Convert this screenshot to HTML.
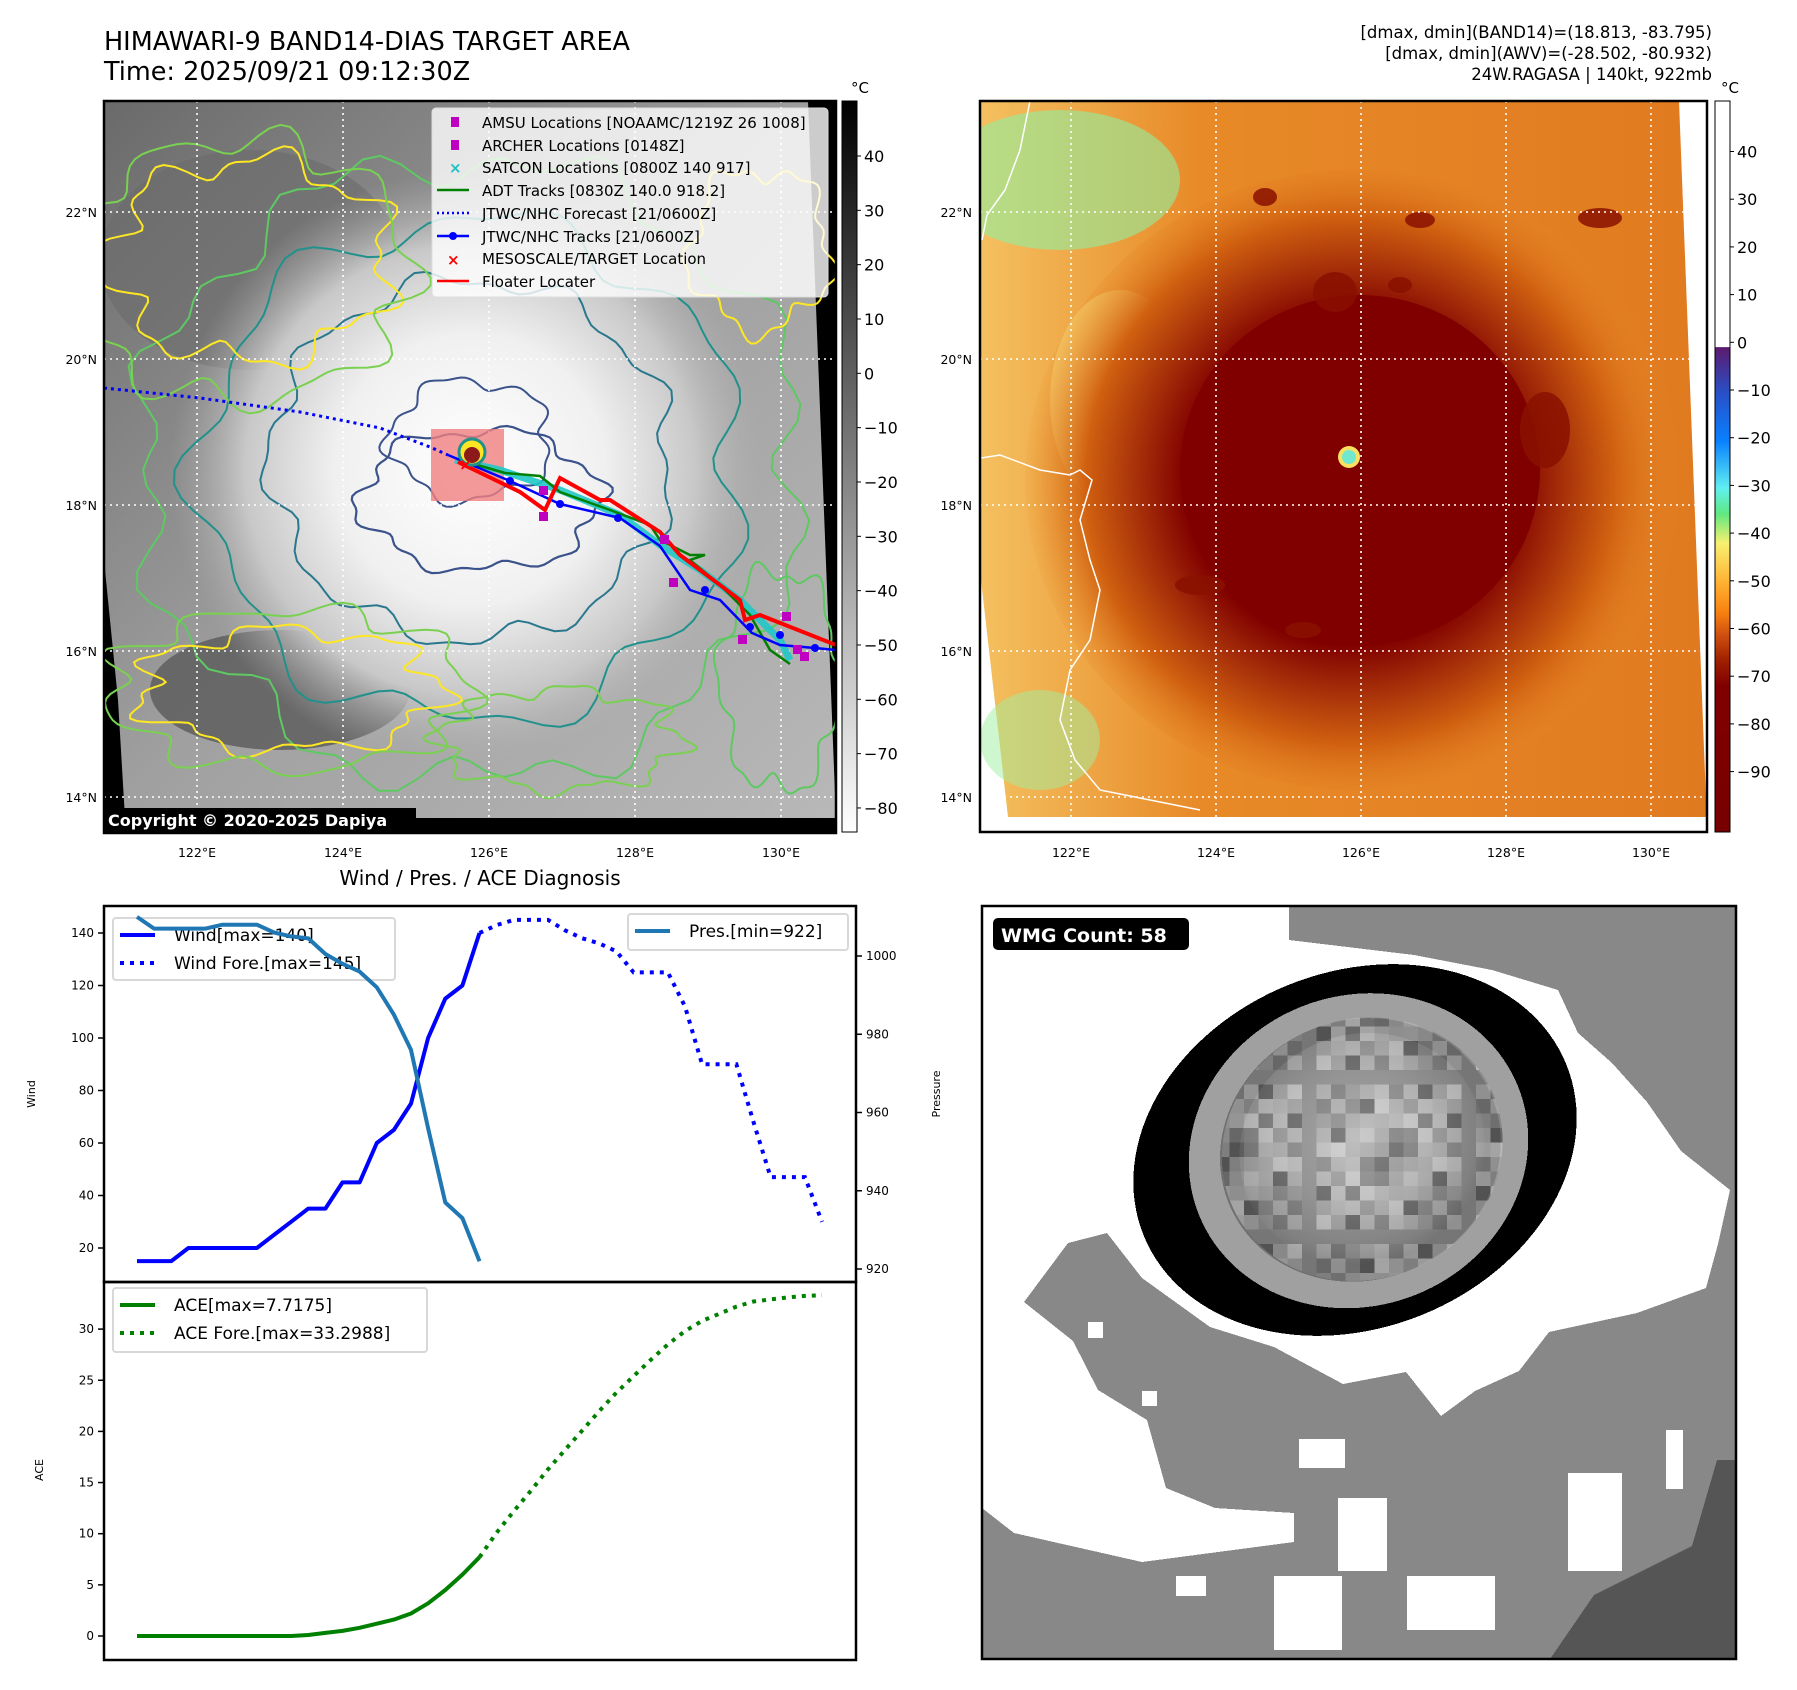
<!DOCTYPE html>
<html><head><meta charset="utf-8"><style>
html,body{margin:0;padding:0;background:#fff;}
svg{display:block;font-family:"DejaVu Sans","Liberation Sans",sans-serif;}
</style></head><body>
<svg id="root" width="1797" height="1690" viewBox="0 0 1797 1690" xmlns="http://www.w3.org/2000/svg">
<defs>
  <radialGradient id="cloudL" cx="470" cy="470" r="300" gradientUnits="userSpaceOnUse">
    <stop offset="0" stop-color="#ffffff"/><stop offset="0.45" stop-color="#f0f0f0"/><stop offset="0.75" stop-color="#c8c8c8"/><stop offset="1" stop-color="#a8a8a8" stop-opacity="0"/>
  </radialGradient>
  <linearGradient id="baseL" x1="0" y1="0" x2="1" y2="1">
    <stop offset="0" stop-color="#6a6a6a"/><stop offset="0.5" stop-color="#a0a0a0"/><stop offset="1" stop-color="#b8b8b8"/>
  </linearGradient>
  <radialGradient id="cloudR" cx="1350" cy="480" r="330" gradientUnits="userSpaceOnUse">
    <stop offset="0" stop-color="#800000"/><stop offset="0.5" stop-color="#800000"/><stop offset="0.62" stop-color="#a02808"/><stop offset="0.8" stop-color="#d06010"/><stop offset="1" stop-color="#e88a28" stop-opacity="0"/>
  </radialGradient>
  <linearGradient id="baseR" x1="0" y1="0" x2="1" y2="0">
    <stop offset="0" stop-color="#f4c060"/><stop offset="0.3" stop-color="#e88a28"/><stop offset="1" stop-color="#e07a20"/>
  </linearGradient>
  <linearGradient id="cbL" x1="0" y1="0" x2="0" y2="1">
    <stop offset="0" stop-color="#000"/><stop offset="1" stop-color="#fff"/>
  </linearGradient>
  <linearGradient id="cbR" x1="0" y1="101" x2="0" y2="832" gradientUnits="userSpaceOnUse">
    <stop offset="0" stop-color="#fff"/><stop offset="0.3365" stop-color="#fff"/>
    <stop offset="0.337" stop-color="#5c1a6e"/><stop offset="0.40" stop-color="#2850c8"/>
    <stop offset="0.465" stop-color="#0a80ff"/><stop offset="0.53" stop-color="#60f0f0"/>
    <stop offset="0.565" stop-color="#60e880"/><stop offset="0.605" stop-color="#f8f070"/>
    <stop offset="0.66" stop-color="#ffb030"/><stop offset="0.70" stop-color="#f88010"/>
    <stop offset="0.73" stop-color="#d05010"/><stop offset="0.765" stop-color="#a02000"/>
    <stop offset="0.80" stop-color="#800000"/><stop offset="1" stop-color="#780000"/>
  </linearGradient>
  <radialGradient id="eyeInner" cx="0.5" cy="0.45" r="0.6">
    <stop offset="0" stop-color="#d8d8d8"/><stop offset="0.5" stop-color="#b0b0b0"/><stop offset="0.8" stop-color="#888"/><stop offset="1" stop-color="#555"/>
  </radialGradient>
  <clipPath id="clipL"><rect x="104" y="101" width="732" height="732"/></clipPath>
  <clipPath id="clipR"><rect x="980" y="101" width="727" height="731"/></clipPath>
  <clipPath id="clipB"><rect x="982" y="906" width="754" height="753"/></clipPath>
  <clipPath id="clipEye"><ellipse cx="1362" cy="1152" rx="142" ry="130" transform="rotate(-22 1355 1150)"/></clipPath>
</defs>

<!-- Titles -->
<text x="104" y="50" font-size="25.5" fill="#000">HIMAWARI-9 BAND14-DIAS TARGET AREA</text>
<text x="104" y="80" font-size="25.5" fill="#000">Time: 2025/09/21 09:12:30Z</text>
<g font-size="16.5" text-anchor="end" fill="#000">
  <text x="1712" y="38">[dmax, dmin](BAND14)=(18.813, -83.795)</text>
  <text x="1712" y="59">[dmax, dmin](AWV)=(-28.502, -80.932)</text>
  <text x="1712" y="80">24W.RAGASA | 140kt, 922mb</text>
</g>

<!-- LEFT MAP -->
<g clip-path="url(#clipL)">
  <rect x="104" y="101" width="732" height="732" fill="#000"/>
  <polygon points="104,101 808,101 836,820 125,818 118,700 104,560" fill="url(#baseL)"/>
  <ellipse cx="280" cy="690" rx="130" ry="60" fill="#5a5a5a" opacity="0.8"/>
  <ellipse cx="250" cy="260" rx="150" ry="110" fill="#6a6a6a" opacity="0.6"/>
  <ellipse cx="470" cy="470" rx="330" ry="300" fill="url(#cloudL)"/>
  <g id="contoursL" fill="none" stroke-width="2"></g>
  <g stroke="#fff" stroke-width="1.6" stroke-dasharray="2,4">
    <line x1="197" y1="101" x2="197" y2="833"/><line x1="343" y1="101" x2="343" y2="833"/><line x1="489" y1="101" x2="489" y2="833"/><line x1="635" y1="101" x2="635" y2="833"/><line x1="781" y1="101" x2="781" y2="833"/>
    <line x1="104" y1="212" x2="836" y2="212"/><line x1="104" y1="359" x2="836" y2="359"/><line x1="104" y1="505" x2="836" y2="505"/><line x1="104" y1="651" x2="836" y2="651"/><line x1="104" y1="797" x2="836" y2="797"/>
  </g>
  <rect x="104" y="818" width="732" height="15" fill="#000"/>
  <rect x="431" y="429" width="73" height="72" fill="#f08080" opacity="0.8"/>
  <polyline points="104,388 200,398 300,412 380,428 430,447 448,455" fill="none" stroke="#0000ff" stroke-width="3" stroke-dasharray="3,4"/>
  <polyline points="455,460 500,470 560,490 620,515 660,545 700,570 740,600 780,640 790,660" fill="none" stroke="#20c8c8" stroke-width="7" opacity="0.9"/>
  <polyline points="460,460 505,473 540,476 560,492 610,510 650,525 660,540 690,555 705,555 690,560 720,585 750,615 770,650 790,664" fill="none" stroke="#008000" stroke-width="2.5"/>
  <polyline points="448,455 510,481 560,504 620,518 660,546 690,590 720,600 752,633 780,645 815,648 836,650" fill="none" stroke="#0000ff" stroke-width="2.5"/>
  <g fill="#0000ff"><circle cx="510" cy="481" r="4"/><circle cx="560" cy="504" r="4"/><circle cx="618" cy="518" r="4"/><circle cx="705" cy="590" r="4"/><circle cx="750" cy="627" r="4"/><circle cx="780" cy="635" r="4"/><circle cx="815" cy="648" r="4"/></g>
  <polyline points="458,462 520,492 545,510 560,478 600,500 610,500 660,532 680,555 740,600 745,620 760,615 836,645" fill="none" stroke="#ff0000" stroke-width="4"/>
  <g fill="#c000c0">
    <rect x="539" y="486" width="9" height="9"/><rect x="539" y="512" width="9" height="9"/><rect x="660" y="535" width="9" height="9"/><rect x="669" y="578" width="9" height="9"/><rect x="738" y="635" width="9" height="9"/><rect x="782" y="612" width="9" height="9"/><rect x="793" y="645" width="9" height="9"/><rect x="800" y="652" width="9" height="9"/>
  </g>
  <circle cx="472" cy="452" r="13" fill="#fde725" stroke="#21918c" stroke-width="3"/>
  <circle cx="472" cy="455" r="8" fill="#8b1a1a"/>
  <text x="459" y="470" font-size="16" fill="#ff0000" font-weight="bold">×</text>
</g>
<rect x="104" y="101" width="732" height="732" fill="none" stroke="#000" stroke-width="2.5"/>
<rect x="104" y="808" width="312" height="24" fill="#000"/>
<text x="108" y="826" font-size="16" font-weight="bold" fill="#fff">Copyright © 2020-2025 Dapiya</text>

<!-- legend of left map -->
<g>
  <rect x="432" y="108" width="396" height="189" rx="4" fill="#fff" fill-opacity="0.8" stroke="#ddd"/>
  <g font-size="15" fill="#000">
    <rect x="451" y="117" width="8" height="10" fill="#c000c0"/><text x="482" y="128">AMSU Locations [NOAAMC/1219Z 26 1008]</text>
    <rect x="451" y="140" width="8" height="10" fill="#c000c0"/><text x="482" y="151">ARCHER Locations [0148Z]</text>
    <text x="449" y="173" fill="#20c0c0" font-weight="bold">×</text><text x="482" y="173">SATCON Locations [0800Z 140 917]</text>
    <line x1="437" y1="190" x2="469" y2="190" stroke="#008000" stroke-width="2.5"/><text x="482" y="196">ADT Tracks [0830Z 140.0 918.2]</text>
    <line x1="437" y1="213" x2="469" y2="213" stroke="#0000ff" stroke-width="2.5" stroke-dasharray="2,3"/><text x="482" y="219">JTWC/NHC Forecast [21/0600Z]</text>
    <line x1="437" y1="236" x2="469" y2="236" stroke="#0000ff" stroke-width="2.5"/><circle cx="453" cy="236" r="4" fill="#0000ff"/><text x="482" y="242">JTWC/NHC Tracks [21/0600Z]</text>
    <text x="447" y="265" fill="#ff0000" font-weight="bold">×</text><text x="482" y="264">MESOSCALE/TARGET Location</text>
    <line x1="437" y1="281" x2="469" y2="281" stroke="#ff0000" stroke-width="2.5"/><text x="482" y="287">Floater Locater</text>
  </g>
</g>

<!-- left colorbar -->
<g>
  <rect x="842" y="101" width="15" height="731" fill="url(#cbL)" stroke="#000" stroke-width="1"/>
  <text x="860" y="93" font-size="15" text-anchor="middle">°C</text>
  <g id="cbLticks" font-size="16"></g>
</g>

<!-- RIGHT MAP -->
<g clip-path="url(#clipR)">
  <rect x="980" y="101" width="727" height="731" fill="#fff"/>
  <polygon points="981,101 1679,101 1707,826 1707,817 1008,817 981,580" fill="url(#baseR)"/>
  <ellipse cx="1060" cy="180" rx="120" ry="70" fill="#90f0a0" opacity="0.6"/>
  <ellipse cx="1040" cy="740" rx="60" ry="50" fill="#a0f0a0" opacity="0.5"/>
  <ellipse cx="1120" cy="400" rx="70" ry="110" fill="#f8e080" opacity="0.5"/>
  <ellipse cx="1355" cy="480" rx="330" ry="310" fill="url(#cloudR)"/>
  <ellipse cx="1360" cy="470" rx="180" ry="175" fill="#800000"/>
  <g fill="#8a1000" opacity="0.85">
    <ellipse cx="1265" cy="197" rx="12" ry="9"/><ellipse cx="1335" cy="292" rx="22" ry="20"/><ellipse cx="1545" cy="430" rx="25" ry="38"/>
    <ellipse cx="1600" cy="218" rx="22" ry="10"/><ellipse cx="1400" cy="285" rx="12" ry="8"/><ellipse cx="1420" cy="220" rx="15" ry="8"/>
    <ellipse cx="1200" cy="585" rx="25" ry="10"/><ellipse cx="1303" cy="630" rx="18" ry="8"/>
  </g>
  <circle cx="1349" cy="457" r="11" fill="#f8e060"/>
  <circle cx="1349" cy="457" r="7" fill="#70e8d0"/>
  <g stroke="#fff" stroke-width="1.6" stroke-dasharray="2,4">
    <line x1="1071" y1="101" x2="1071" y2="832"/><line x1="1216" y1="101" x2="1216" y2="832"/><line x1="1361" y1="101" x2="1361" y2="832"/><line x1="1506" y1="101" x2="1506" y2="832"/><line x1="1651" y1="101" x2="1651" y2="832"/>
    <line x1="980" y1="212" x2="1707" y2="212"/><line x1="980" y1="359" x2="1707" y2="359"/><line x1="980" y1="505" x2="1707" y2="505"/><line x1="980" y1="651" x2="1707" y2="651"/><line x1="980" y1="797" x2="1707" y2="797"/>
  </g>
  <polyline points="1030,101 1020,150 1005,190 987,215 982,240" fill="none" stroke="#fff" stroke-width="1.5"/>
  <polyline points="981,458 1000,455 1040,470 1070,475 1080,470 1092,480 1080,520 1090,560 1100,590 1090,640 1070,670 1060,720 1075,760 1100,790 1150,800 1200,810" fill="none" stroke="#fff" stroke-width="1.5"/>
</g>
<rect x="980" y="101" width="727" height="731" fill="none" stroke="#000" stroke-width="2.5"/>
<g>
  <rect x="1715" y="101" width="15" height="731" fill="url(#cbR)" stroke="#000" stroke-width="1"/>
  <text x="1730" y="93" font-size="15" text-anchor="middle">°C</text>
  <g id="cbRticks" font-size="16"></g>
</g>
<g id="mapLabels" font-size="12.5" fill="#000"></g>

<!-- WMG panel -->
<g clip-path="url(#clipB)" shape-rendering="crispEdges">
  <rect x="982" y="906" width="754" height="753" fill="#888"/>
  <polygon fill="#fff" points="982,906 1289,906 1289,940 1414,955 1492,970 1558,990 1578,1033 1612,1063 1647,1102 1681,1151 1730,1190 1718,1244 1706,1288 1637,1313 1549,1332 1519,1371 1475,1391 1441,1416 1406,1372 1343,1384 1274,1347 1210,1327 1142,1278 1107,1233 1068,1243 1024,1302 1073,1341 1098,1390 1147,1420 1166,1488 1215,1508 1294,1513 1294,1542 1142,1562 1014,1533 982,1508"/>
  <rect x="1299" y="1439" width="46" height="29" fill="#fff"/>
  <rect x="1338" y="1498" width="49" height="73" fill="#fff"/>
  <rect x="1568" y="1473" width="54" height="98" fill="#fff"/>
  <rect x="1407" y="1576" width="88" height="54" fill="#fff"/>
  <rect x="1176" y="1576" width="30" height="20" fill="#fff"/>
  <rect x="1274" y="1576" width="68" height="74" fill="#fff"/>
  <rect x="1666" y="1430" width="17" height="59" fill="#fff"/>
  <rect x="1088" y="1322" width="15" height="16" fill="#fff"/>
  <rect x="1142" y="1391" width="15" height="15" fill="#fff"/>
  <polygon fill="#555" points="1717,1460 1736,1460 1736,1659 1550,1659 1594,1595 1692,1546"/>
  <g transform="rotate(-22 1355 1150)">
    <ellipse cx="1355" cy="1150" rx="228" ry="178" fill="#000"/>
    <ellipse cx="1358" cy="1152" rx="172" ry="155" fill="#a0a0a0"/>
    <ellipse cx="1360" cy="1152" rx="142" ry="130" fill="#707070"/>
    <ellipse cx="1362" cy="1152" rx="124" ry="115" fill="url(#eyeInner)"/>
  </g>
  <g id="wmgPix" clip-path="url(#clipEye)"></g>
</g>
<rect x="982" y="906" width="754" height="753" fill="none" stroke="#000" stroke-width="2.5"/>
<rect x="993" y="918" width="196" height="32" rx="5" fill="#000"/>
<text x="1001" y="942" font-size="19" font-weight="bold" fill="#fff">WMG Count: 58</text>

<!-- Bottom-left chart -->
<text x="480" y="885" font-size="20" text-anchor="middle">Wind / Pres. / ACE Diagnosis</text>
<g id="chart"></g>
</svg>
<script>
// ---- chart data ----
var windObs = [15,15,15,20,20,20,20,20,25,30,35,35,45,45,60,65,75,100,115,120,140];
var windFore = [140,143,145,145,145,141,138,136,133,125,125,125,112,90,90,90,68,47,47,47,30];
var presObs = [1010,1007,1007,1007,1007,1008,1008,1008,1006,1005,1004.5,1000.5,998,996,992,985,976,956,937,933,922];
var aceObs = [0,0,0,0,0,0,0,0,0,0,0.1,0.3,0.5,0.8,1.2,1.6,2.2,3.2,4.5,6,7.7];
var aceFore = [7.7,10.1,12.2,14.2,16.3,18.2,20.1,22,23.8,25.4,27,28.5,29.8,30.8,31.5,32.2,32.7,32.9,33.1,33.25,33.3];
var windTicks = [20,40,60,80,100,120,140];
var presTicks = [920,940,960,980,1000];
var aceTicks = [0,5,10,15,20,25,30];
var cbLTicks = [40,30,20,10,0,-10,-20,-30,-40,-50,-60,-70,-80];
var cbRTicks = [40,30,20,10,0,-10,-20,-30,-40,-50,-60,-70,-80,-90];
var latLabels = ["22°N","20°N","18°N","16°N","14°N"];
var lonLabels = ["122°E","124°E","126°E","128°E","130°E"];

var NS = "http://www.w3.org/2000/svg";
function mk(tag, attrs, parent){var e=document.createElementNS(NS,tag);for(var k in attrs)e.setAttribute(k,attrs[k]);parent.appendChild(e);return e;}
function xS(i){return 137 + i*17.125;}
function yW(w){return 1300.5 - 2.625*w;}
function yP(p){return 1269 - (p-920)*3.9125;}
function yA(a){return 1636 - 10.23*a;}
function mm(v){return v<0 ? "\u2212"+(-v) : ""+v;}

var chart = document.getElementById('chart');
var f1 = mk('rect',{x:104,y:906,width:752,height:376,fill:'none',stroke:'#000','stroke-width':2.5},chart);


var f2 = mk('rect',{x:104,y:1282,width:752,height:378,fill:'none',stroke:'#000','stroke-width':2.5},chart);



windTicks.forEach(function(t){
  var y=yW(t);
  mk('line',{x1:98,y1:y,x2:104,y2:y,stroke:'#000','stroke-width':1.5},chart);
  var tx=mk('text',{x:94,y:y+4,'font-size':12,'text-anchor':'end'},chart); tx.textContent=t;
  
  
});
presTicks.forEach(function(t){
  var y=yP(t);
  mk('line',{x1:856,y1:y,x2:862,y2:y,stroke:'#000','stroke-width':1.5},chart);
  var tx=mk('text',{x:866,y:y+4,'font-size':12},chart); tx.textContent=t;
  
  
});
aceTicks.forEach(function(t){
  var y=yA(t);
  mk('line',{x1:98,y1:y,x2:104,y2:y,stroke:'#000','stroke-width':1.5},chart);
  var tx=mk('text',{x:94,y:y+4,'font-size':12,'text-anchor':'end'},chart); tx.textContent=t;
  
  
});
var yl=mk('text',{x:0,y:0,'font-size':11,'text-anchor':'middle',transform:'translate(35,1094) rotate(-90)'},chart); yl.textContent='Wind';


var pl=mk('text',{x:0,y:0,'font-size':11,'text-anchor':'middle',transform:'translate(940,1094) rotate(-90)'},chart); pl.textContent='Pressure';


var al=mk('text',{x:0,y:0,'font-size':11,'text-anchor':'middle',transform:'translate(43,1470) rotate(-90)'},chart); al.textContent='ACE';



function pts(arr, off, yf){return arr.map(function(v,i){return xS(i+off).toFixed(1)+','+yf(v).toFixed(1);}).join(' ');}
var wl=mk('polyline',{points:pts(windObs,0,yW),fill:'none',stroke:'#0000ff','stroke-width':4,'stroke-linejoin':'round'},chart);


var wf=mk('polyline',{points:pts(windFore,20,yW),fill:'none',stroke:'#0000ff','stroke-width':4,'stroke-dasharray':'4,6'},chart);


var pr=mk('polyline',{points:pts(presObs,0,yP),fill:'none',stroke:'#1f77b4','stroke-width':4,'stroke-linejoin':'round'},chart);


var ao=mk('polyline',{points:pts(aceObs,0,yA),fill:'none',stroke:'#008000','stroke-width':4,'stroke-linejoin':'round'},chart);


var af=mk('polyline',{points:pts(aceFore,20,yA),fill:'none',stroke:'#008000','stroke-width':4,'stroke-dasharray':'4,6'},chart);



function legend(name,x,y,w,h,items){
  var g=mk('g',{},chart);
  
  
  mk('rect',{x:x,y:y,width:w,height:h,rx:3,fill:'#fff','fill-opacity':0.8,stroke:'#d8d8d8','stroke-width':2},g);
  items.forEach(function(it,k){
    var cy=y+17+k*28;
    var a={x1:x+7,y1:cy,x2:x+42,y2:cy,stroke:it.c,'stroke-width':4};
    if(it.d)a['stroke-dasharray']='4,6';
    mk('line',a,g);
    var t=mk('text',{x:x+61,y:cy+6,'font-size':17},g); t.textContent=it.t;
  });
}
legend('wind-legend',113,918,282,62,[{c:'#0000ff',t:'Wind[max=140]'},{c:'#0000ff',t:'Wind Fore.[max=145]',d:1}]);
legend('pressure-legend',628,914,220,36,[{c:'#1f77b4',t:'Pres.[min=922]'}]);
legend('ace-legend',113,1288,314,64,[{c:'#008000',t:'ACE[max=7.7175]'},{c:'#008000',t:'ACE Fore.[max=33.2988]',d:1}]);
chart.appendChild(pr);

var cL=document.getElementById('cbLticks');
cbLTicks.forEach(function(v){var y=156+(40-v)*5.433;
  mk('line',{x1:857,y1:y,x2:861,y2:y,stroke:'#000'},cL);
  var t=mk('text',{x:864,y:y+6},cL); t.textContent=mm(v);
  
  });
var cR=document.getElementById('cbRticks');
cbRTicks.forEach(function(v){var y=151.5+(40-v)*4.77;
  mk('line',{x1:1730,y1:y,x2:1734,y2:y,stroke:'#000'},cR);
  var t=mk('text',{x:1737,y:y+6},cR); t.textContent=mm(v);
  
  });

var ml=document.getElementById('mapLabels');
var latY=[212,359,505,651,797];
latLabels.forEach(function(s,k){
  var a=mk('text',{x:97,y:latY[k]+5,'text-anchor':'end'},ml); a.textContent=s;
   
  var b=mk('text',{x:972,y:latY[k]+5,'text-anchor':'end'},ml); b.textContent=s;
   
});
var lonL=[197,343,489,635,781], lonR=[1071,1216,1361,1506,1651];
lonLabels.forEach(function(s,k){
  var a=mk('text',{x:lonL[k],y:857,'text-anchor':'middle'},ml); a.textContent=s;
   
  var b=mk('text',{x:lonR[k],y:857,'text-anchor':'middle'},ml); b.textContent=s;
   
});

// decorative pixel texture in WMG eye
var wp=document.getElementById('wmgPix');
var shades=['#606060','#8a8a8a','#a8a8a8','#c0c0c0','#707070','#b4b4b4','#3a3a3a','#9c9c9c','#d0d0d0','#7c7c7c','#acacac'];
for(var gy=0;gy<20;gy++){for(var gx=0;gx<22;gx++){
  var s=shades[(gx*7+gy*5+gx*gy)%shades.length];
  mk('rect',{x:1215+gx*14.5,y:1012+gy*14.5,width:14.6,height:14.6,fill:s,opacity:0.55},wp);
}}

var cg=document.getElementById('contoursL');
function loop(cx,cy,R,ry,a1,k1,a2,k2,col,w){
  var d='';for(var j=0;j<=120;j++){var t=j/120*Math.PI*2;var r=1+a1*Math.sin(k1*t+cx)+a2*Math.sin(k2*t+cy);
  var x=cx+R*r*Math.cos(t),y=cy+ry*r*Math.sin(t);d+=(j?'L':'M')+x.toFixed(1)+' '+y.toFixed(1);}
  mk('path',{d:d+'Z',stroke:col,'stroke-width':w||2},cg);
}
loop(470,470,270,250,0.06,7,0.04,13,'#21918c',2);
loop(470,460,200,180,0.05,9,0.03,17,'#2a788e',2);
loop(480,500,120,70,0.08,6,0.04,15,'#3b528b',2.2);
loop(470,440,80,60,0.1,5,0.05,11,'#3b528b',2);
loop(470,470,330,310,0.05,8,0.04,19,'#5ec962',2);
loop(250,260,140,100,0.12,7,0.06,15,'#fde725',2);
loop(240,270,170,130,0.1,9,0.05,13,'#7ad151',2);
loop(290,690,150,60,0.12,7,0.06,15,'#fde725',2);
loop(290,690,180,80,0.1,9,0.05,13,'#7ad151',2);
loop(760,250,70,80,0.12,5,0.06,13,'#fde725',2);
loop(780,680,60,110,0.1,6,0.05,13,'#5ec962',2);
loop(560,740,120,50,0.12,8,0.05,17,'#7ad151',2);
</script>
</body></html>
